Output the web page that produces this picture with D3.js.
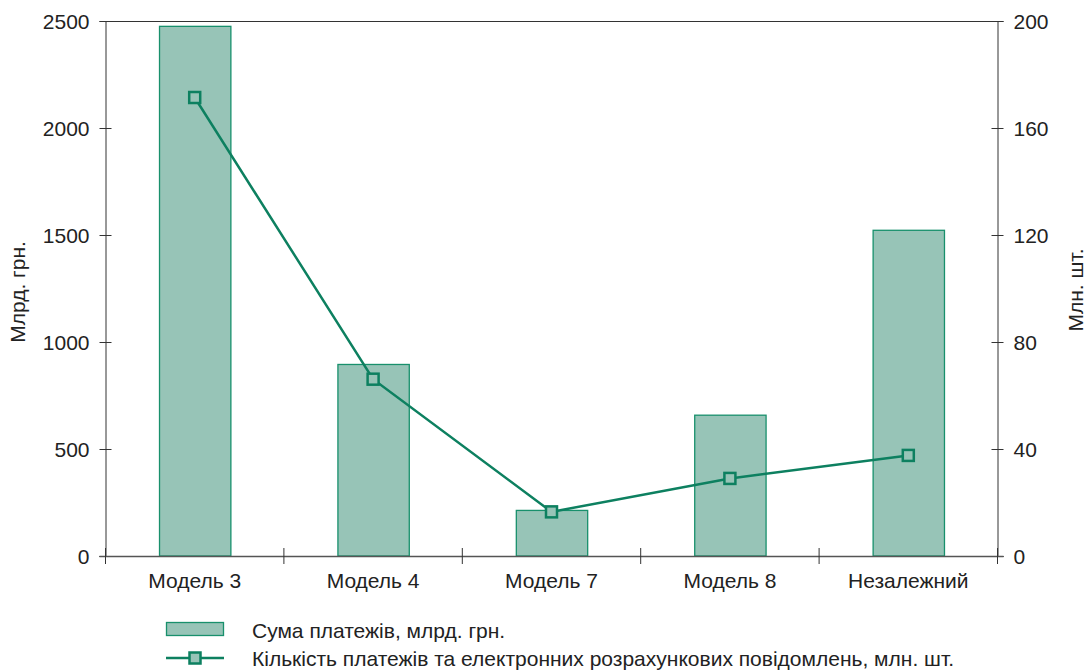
<!DOCTYPE html>
<html>
<head>
<meta charset="utf-8">
<script src="https://cdn.jsdelivr.net/npm/d3@7/dist/d3.min.js"></script>
<style>
  html, body { margin: 0; padding: 0; background: #fff; }
  svg { display: block; font-family: "Liberation Sans", Arial, sans-serif; }
</style>
</head>
<body>
<svg id="chart" width="1086" height="671"></svg>
<script>
const categories = ["Модель 3", "Модель 4", "Модель 7", "Модель 8", "Незалежний"];
const sumValues = [2475, 895, 213, 658, 1522];          // Млрд. грн.
const countValues = [171.4, 66.1, 16.5, 29.0, 37.6];     // Млн. шт.
const leftTicks = [0, 500, 1000, 1500, 2000, 2500];
const rightTicks = [0, 40, 80, 120, 160, 200];
const leftLabel = "Млрд. грн.";
const rightLabel = "Млн. шт.";
const legendLabels = ["Сума платежів, млрд. грн.", "Кількість платежів та електронних розрахункових повідомлень, млн. шт."];

const svg = d3.select("#chart");
const m = { left: 105.5, right: 997.5, top: 21, bottom: 556 };
const axisColor = "#333";
const barFill = "#97c4b7";
const barStroke = "#18906c";
const lineColor = "#0d8060";
const fs = 21;
const ff = "Liberation Sans, Arial, sans-serif";

const x = d3.scaleBand().domain(categories).range([m.left, m.right]).paddingInner(0.6).paddingOuter(0.3);
const xb = d3.scaleBand().domain(categories).range([m.left, m.right]);
const yL = d3.scaleLinear().domain([0, 2500]).range([m.bottom, m.top]);
const yR = d3.scaleLinear().domain([0, 200]).range([m.bottom, m.top]);

// bars
svg.append("g").selectAll("rect").data(categories).join("rect")
  .attr("x", d => x(d) + 0.5)
  .attr("y", (d, i) => yL(sumValues[i]))
  .attr("width", x.bandwidth())
  .attr("height", (d, i) => m.bottom - yL(sumValues[i]))
  .attr("fill", barFill)
  .attr("stroke", barStroke)
  .attr("stroke-width", 1.3);

// top frame line
svg.append("line").attr("x1", m.left).attr("x2", m.right).attr("y1", m.top + 0.5).attr("y2", m.top + 0.5)
  .attr("stroke", axisColor).attr("stroke-width", 1);

// left axis
const gL = svg.append("g").attr("transform", `translate(${m.left},0)`)
  .call(d3.axisLeft(yL).tickValues(leftTicks).tickSize(6).tickPadding(10).tickFormat(d3.format("d")));
gL.selectAll(".tick line").attr("x1", 6);
// right axis
const gR = svg.append("g").attr("transform", `translate(${m.right},0)`)
  .call(d3.axisRight(yR).tickValues(rightTicks).tickSize(6).tickPadding(10).tickFormat(d3.format("d")));
gR.selectAll(".tick line").attr("x1", -6);
// bottom axis
const gB = svg.append("g").attr("transform", `translate(0,${m.bottom})`)
  .call(d3.axisBottom(xb).tickSize(0).tickPadding(17));
gB.select(".domain").remove();
svg.append("line").attr("x1", m.left - 6).attr("x2", m.right + 6).attr("y1", m.bottom + 0.5).attr("y2", m.bottom + 0.5)
  .attr("stroke", "#555").attr("stroke-width", 1.3);
const bounds = categories.map(c => xb(c)).concat([m.right]);
svg.append("g").selectAll("line").data(bounds).join("line")
  .attr("x1", d => d).attr("x2", d => d)
  .attr("y1", m.bottom - 8).attr("y2", m.bottom + 8)
  .attr("stroke", axisColor).attr("stroke-width", 1);

[gL, gR, gB].forEach(g => {
  g.selectAll("text").attr("font-size", fs).attr("fill", "#222").attr("font-family", ff);
  g.selectAll("line, path").attr("stroke", axisColor);
});
gL.selectAll(".tick text").attr("dy", "0.36em");
gR.selectAll(".tick text").attr("dy", "0.36em");

// axis titles
svg.append("text").attr("transform", `translate(25,292) rotate(-90)`)
  .attr("text-anchor", "middle").attr("font-size", fs).attr("fill", "#222").text(leftLabel);
svg.append("text").attr("transform", `translate(1083,290) rotate(-90)`)
  .attr("text-anchor", "middle").attr("font-size", fs).attr("fill", "#222").text(rightLabel);

// line
const cx = d => xb(d) + xb.bandwidth() / 2;
svg.append("path").datum(categories)
  .attr("d", d3.line().x(d => cx(d)).y((d, i) => yR(countValues[i])))
  .attr("fill", "none").attr("stroke", lineColor).attr("stroke-width", 2.5);
const ms = 11;
svg.append("g").selectAll("rect").data(categories).join("rect")
  .attr("x", d => cx(d) - ms / 2).attr("y", (d, i) => yR(countValues[i]) - ms / 2)
  .attr("width", ms).attr("height", ms)
  .attr("fill", barFill).attr("stroke", lineColor).attr("stroke-width", 2.5);

// legend
const lg = svg.append("g");
lg.append("rect").attr("x", 166.5).attr("y", 622.5).attr("width", 57).attr("height", 13)
  .attr("fill", barFill).attr("stroke", barStroke).attr("stroke-width", 1.3);
lg.append("text").attr("x", 252).attr("y", 630).attr("dy", "0.36em").attr("font-size", fs).attr("fill", "#222").text(legendLabels[0]);
lg.append("line").attr("x1", 166).attr("x2", 224).attr("y1", 658).attr("y2", 658)
  .attr("stroke", lineColor).attr("stroke-width", 2.5);
lg.append("rect").attr("x", 195 - 5.5).attr("y", 658 - 5.5).attr("width", 11).attr("height", 11)
  .attr("fill", barFill).attr("stroke", lineColor).attr("stroke-width", 2.5);
lg.append("text").attr("x", 252).attr("y", 658).attr("dy", "0.36em").attr("font-size", fs).attr("fill", "#222").text(legendLabels[1]);
</script>
</body>
</html>
